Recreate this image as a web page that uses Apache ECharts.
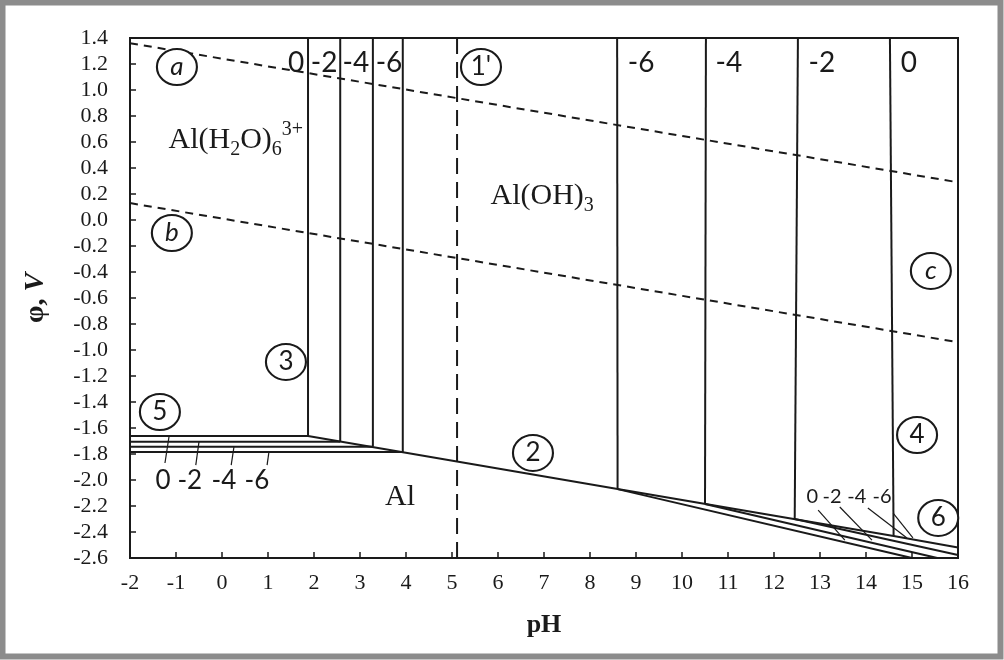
<!DOCTYPE html>
<html>
<head>
<meta charset="utf-8">
<script src="https://cdn.jsdelivr.net/npm/echarts@6/dist/echarts.min.js"></script>
<style>
html, body { margin: 0; padding: 0; background: #fff; }
#main { width: 1004px; height: 660px; }
</style>
</head>
<body>
<div id="main"></div>
<script>
// water stability lines a, b (dashed) and line 1'
var lineA = [[-2, 1.36], [16, 0.29]];
var lineB = [[-2, 0.13], [16, -0.94]];
var line1p = [[5.11, 1.4], [5.11, -2.6]];

// log a values, order 0, -2, -4, -6
var logA = ['0', '-2', '-4', '-6'];
// line 3: Al(H2O)6 3+ / Al(OH)3 verticals
var line3PH = [1.87, 2.57, 3.28, 3.93];
// line 5: Al3+ / Al horizontals
var line5Phi = [-1.662, -1.705, -1.745, -1.785];
// line 2: Al(OH)3 / Al
var line2 = [[1.87, -1.662], [8.6, -2.07], [14.6, -2.43], [16, -2.52]];
// line 4: Al(OH)3 / AlO2- verticals (top pH, bottom pH, bottom phi)
var line4TopPH = [14.52, 12.52, 10.52, 8.59];
var line4BotPH = [14.6, 12.45, 10.5, 8.6];
var line4BotPhi = [-2.43, -2.30, -2.185, -2.07];
// line 6: AlO2- / Al end points
var line6EndPH = [16, 16, 15.55, 15.0];
var line6EndPhi = [-2.52, -2.577, -2.6, -2.6];

// circled labels
var circleNames = ['a', 'b', 'c', "1'", '2', '3', '4', '5', '6'];
var circlePH = [-0.98, -1.09, 15.41, 5.63, 6.76, 1.39, 15.11, -1.35, 15.57];
var circlePhi = [1.177, -0.10, -0.392, 1.177, -1.792, -1.092, -1.654, -1.477, -2.292];

// species labels
var speciesText = ['Al(H{sub|2}O){sub|6}{sup|3+}', 'Al(OH){sub|3}', 'Al'];
var speciesPH = [0.30, 6.96, 3.87];
var speciesPhi = [0.615, 0.185, -2.13];

// concentration labels
var topLeftPH = [1.61, 2.22, 2.91, 3.63];
var topRightPH = [14.93, 13.04, 11.02, 9.11];
var topPhi = 1.205;
var botLeftPH = [-1.28, -0.70, 0.04, 0.76];
var botLeftPhi = -2.008;
var botRightPH = [12.83, 13.26, 13.80, 14.35];
var botRightPhi = -2.131;

// leader lines [startPH, startPhi, endPH, endPhi]
var leadLeft = [[-1.24, -1.869, -1.15, -1.662], [-0.57, -1.885, -0.50, -1.705],
                [0.20, -1.885, 0.26, -1.745], [0.98, -1.885, 1.02, -1.785]];
var leadRight = [[12.96, -2.231, 13.54, -2.462], [13.43, -2.208, 14.13, -2.462],
                 [14.04, -2.215, 14.89, -2.446], [14.59, -2.254, 15.02, -2.446]];

var ink = '#1a1a1a';
var serif = '"Liberation Serif", "Times New Roman", serif';
var sans = 'Lato, "Open Sans", sans-serif';

function seg(data, opts) {
  opts = opts || {};
  return {
    type: 'line',
    data: data,
    showSymbol: false,
    silent: true,
    z: 2,
    lineStyle: {
      color: ink,
      width: opts.width || 2,
      type: opts.dash || 'solid'
    }
  };
}

function textSeries(xs, ys, texts, label) {
  return {
    type: 'scatter',
    symbolSize: 1,
    silent: true,
    z: 5,
    itemStyle: { color: 'rgba(0,0,0,0)', opacity: 1 },
    label: Object.assign({
      show: true,
      position: 'inside',
      color: ink,
      opacity: 1,
      formatter: function (p) { return p.data.txt; }
    }, label),
    data: xs.map(function (x, i) { return { value: [x, ys[i]], txt: texts[i] }; })
  };
}

var series = [];
series.push(seg(lineA, { dash: [8, 6] }));
series.push(seg(lineB, { dash: [8, 6] }));
series.push(seg(line1p, { dash: [16, 8] }));
series.push(seg(line2));
for (var i = 0; i < 4; i++) {
  series.push(seg([[line3PH[i], 1.4], [line3PH[i], line5Phi[i]]]));
  series.push(seg([[-2, line5Phi[i]], [line3PH[i], line5Phi[i]]]));
  series.push(seg([[line4TopPH[i], 1.4], [line4BotPH[i], line4BotPhi[i]]]));
  if (i > 0) {
    series.push(seg([[line4BotPH[i], line4BotPhi[i]], [line6EndPH[i], line6EndPhi[i]]]));
  }
  series.push(seg([[leadLeft[i][0], leadLeft[i][1]], [leadLeft[i][2], leadLeft[i][3]]], { width: 1.2 }));
  series.push(seg([[leadRight[i][0], leadRight[i][1]], [leadRight[i][2], leadRight[i][3]]], { width: 1.2 }));
}

// circles
series.push({
  type: 'scatter',
  symbol: 'circle',
  symbolSize: [40, 36],
  silent: true,
  z: 4,
  itemStyle: { color: '#fff', borderColor: ink, borderWidth: 2, opacity: 1 },
  label: {
    show: true,
    position: 'inside',
    color: ink,
    fontFamily: sans,
    fontSize: 26,
    formatter: function (p) { return p.data.txt; }
  },
  data: circleNames.map(function (n, i) {
    var it = { value: [circlePH[i], circlePhi[i]], txt: n };
    if (n === 'a' || n === 'b' || n === 'c') it.label = { fontStyle: 'italic' };
    return it;
  })
});

series.push(textSeries(speciesPH, speciesPhi, speciesText, {
  fontFamily: serif, fontSize: 30,
  rich: {
    sub: { fontFamily: serif, fontSize: 20, verticalAlign: 'bottom', lineHeight: 20, color: ink },
    sup: { fontFamily: serif, fontSize: 20, verticalAlign: 'top', lineHeight: 20, color: ink }
  },
  lineHeight: 40
}));
series.push(textSeries(topLeftPH, topLeftPH.map(function () { return topPhi; }), logA, { fontFamily: sans, fontSize: 28 }));
series.push(textSeries(topRightPH, topRightPH.map(function () { return topPhi; }), logA, { fontFamily: sans, fontSize: 28 }));
series.push(textSeries(botLeftPH, botLeftPH.map(function () { return botLeftPhi; }), logA, { fontFamily: sans, fontSize: 26 }));
series.push(textSeries(botRightPH, botRightPH.map(function () { return botRightPhi; }), logA, { fontFamily: sans, fontSize: 20 }));

var myChart = echarts.init(document.getElementById('main'));
myChart.setOption({
  animation: false,
  backgroundColor: '#fff',
  graphic: [{
    type: 'rect',
    shape: { x: 2.5, y: 2.5, width: 998, height: 654 },
    style: { fill: 'none', stroke: '#8c8c8c', lineWidth: 6 },
    silent: true
  }],
  grid: {
    left: 130, right: 46, top: 38, bottom: 102,
    show: true, borderColor: ink, borderWidth: 2, backgroundColor: 'transparent'
  },
  xAxis: {
    type: 'value', min: -2, max: 16, interval: 1,
    name: 'pH', nameLocation: 'middle', nameGap: 54,
    nameTextStyle: { fontFamily: serif, fontSize: 26, fontWeight: 'bold', color: ink },
    axisLine: { show: true, onZero: false, lineStyle: { color: ink, width: 2 } },
    axisTick: { show: true, inside: true, length: 6, lineStyle: { color: ink, width: 1.5 } },
    axisLabel: { fontFamily: serif, fontSize: 22, color: ink, margin: 14 },
    splitLine: { show: false }
  },
  yAxis: {
    type: 'value', min: -2.6, max: 1.4, interval: 0.2,
    name: '{p|φ, }{v|V}', nameLocation: 'middle', nameGap: 80, nameRotate: 90,
    nameTextStyle: {
      rich: {
        p: { fontFamily: serif, fontSize: 28, fontWeight: 'bold', color: ink },
        v: { fontFamily: serif, fontSize: 28, fontWeight: 'bold', fontStyle: 'italic', color: ink }
      }
    },
    axisLine: { show: true, onZero: false, lineStyle: { color: ink, width: 2 } },
    axisTick: { show: true, inside: true, length: 6, lineStyle: { color: ink, width: 1.5 } },
    axisLabel: {
      fontFamily: serif, fontSize: 22, color: ink, margin: 22,
      formatter: function (v) { return v.toFixed(1); }
    },
    splitLine: { show: false }
  },
  series: series
});
</script>
</body>
</html>
